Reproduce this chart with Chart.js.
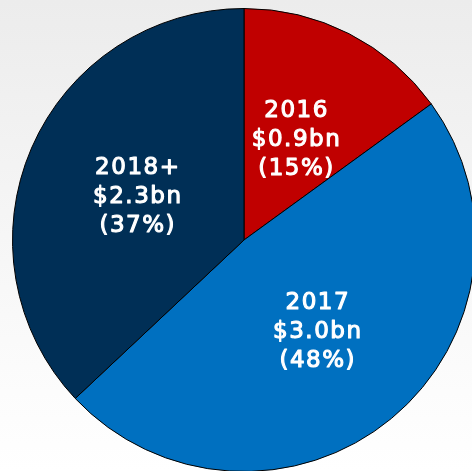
<!DOCTYPE html>
<html>
<head>
<meta charset="utf-8">
<script src="https://cdn.jsdelivr.net/npm/chart.js@4/dist/chart.umd.min.js"></script>
<style>
  html, body { margin: 0; padding: 0; width: 472px; height: 471px; overflow: hidden;
    background: linear-gradient(to bottom, #ececec 0%, #f6f6f6 50%, #ffffff 100%); }
  #wrap { position: absolute; left: 4px; top: 0px; width: 480px; height: 480px; }
</style>
</head>
<body>
<div id="wrap"><canvas id="c"></canvas></div>
<script>
const categories = ["2016", "2017", "2018+"];
const amounts = ["$0.9bn", "$3.0bn", "$2.3bn"];
const percents = [15, 48, 37];
const colors = ["#C00000", "#0070C0", "#002F56"];

const labelPlugin = {
  id: 'sliceLabels',
  afterDatasetsDraw(chart) {
    const ctx = chart.ctx;
    const meta = chart.getDatasetMeta(0);
    ctx.save();
    ctx.fillStyle = '#ffffff';
    ctx.strokeStyle = '#ffffff';
    ctx.lineWidth = 1.1;
    ctx.lineJoin = 'round';
    ctx.font = '23px "DejaVu Sans", sans-serif';
    ctx.letterSpacing = '1.5px';
    ctx.textAlign = 'center';
    ctx.textBaseline = 'middle';
    const lh = 29;
    meta.data.forEach((arc, i) => {
      const p = arc.tooltipPosition();
      const lines = [categories[i], amounts[i], '(' + percents[i] + '%)'];
      lines.forEach((t, j) => {
        const y = p.y + 3 + (j - 1) * lh;
        ctx.fillText(t, p.x, y);
        ctx.strokeText(t, p.x, y);
      });
    });
    ctx.restore();
  }
};

new Chart(document.getElementById('c'), {
  type: 'pie',
  data: {
    labels: categories,
    datasets: [{
      data: percents,
      backgroundColor: colors,
      borderColor: '#000000',
      borderWidth: 1
    }]
  },
  options: {
    responsive: true,
    maintainAspectRatio: false,
    animation: false,
    layout: { padding: 8 },
    plugins: { legend: { display: false }, tooltip: { enabled: false } }
  },
  plugins: [labelPlugin]
});
</script>
</body>
</html>
